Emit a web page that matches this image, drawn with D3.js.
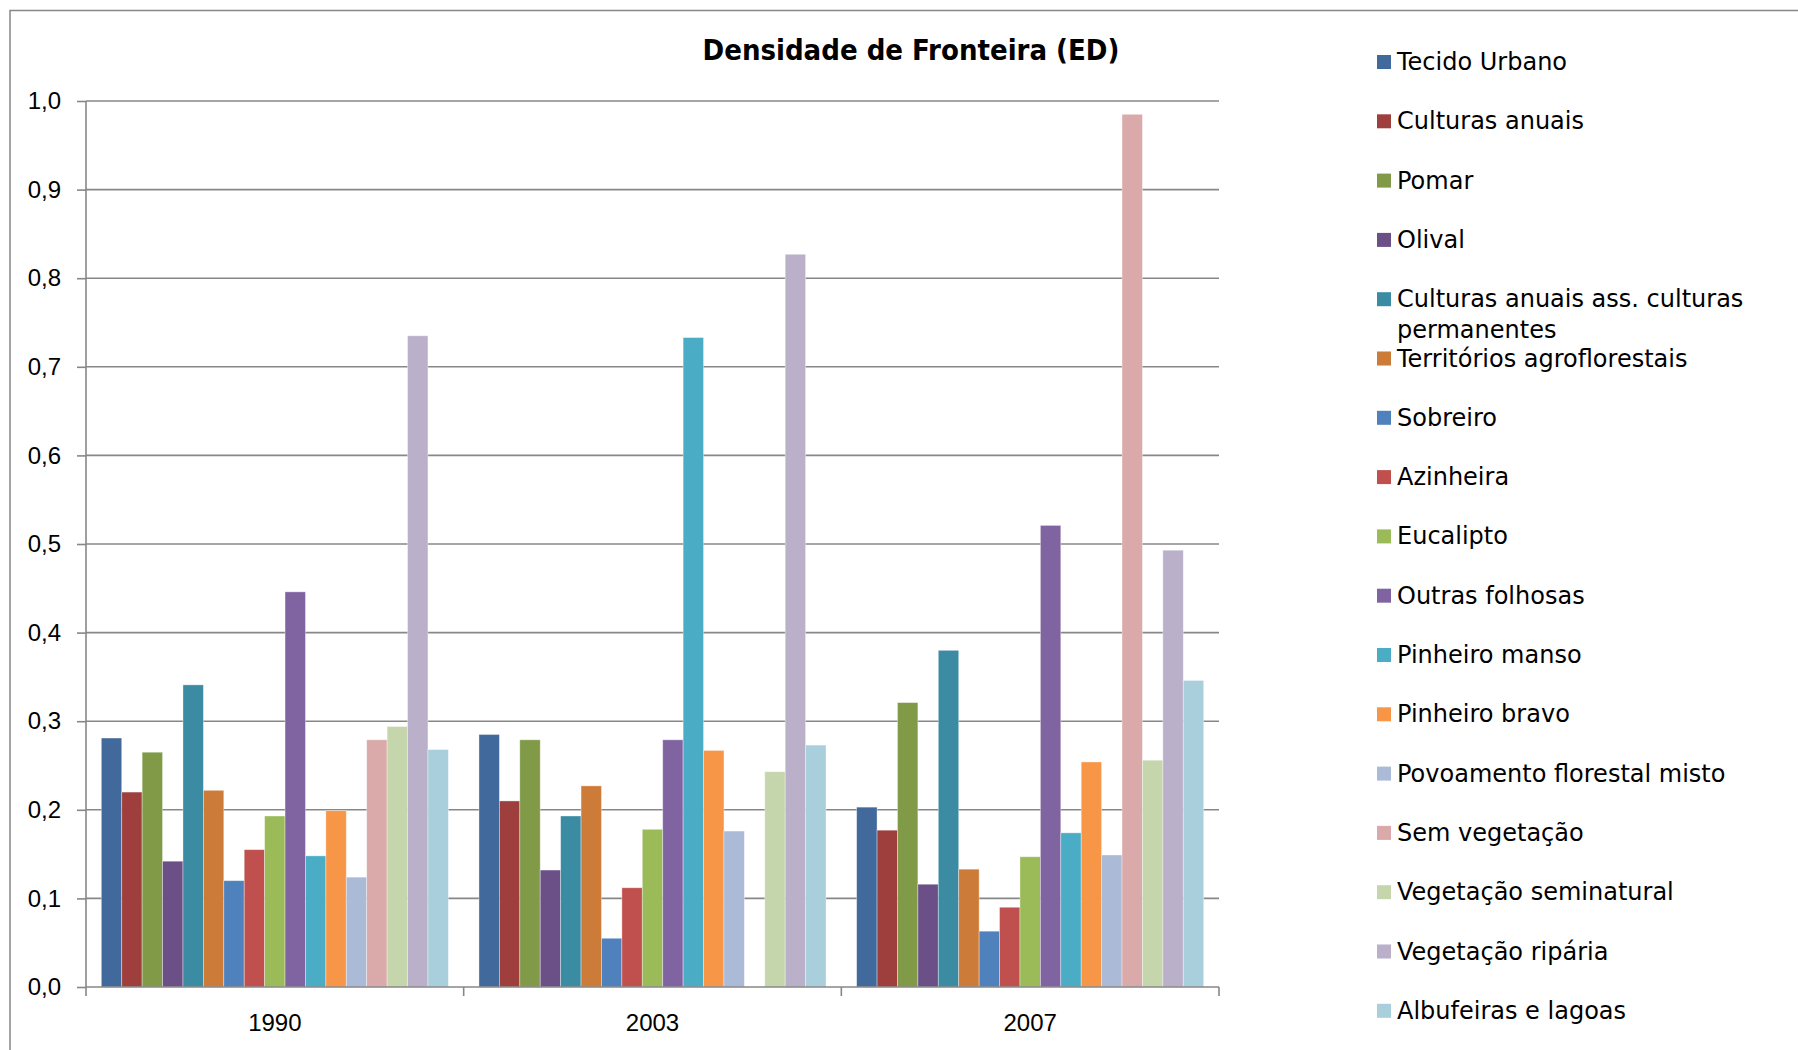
<!DOCTYPE html>
<html>
<head>
<meta charset="utf-8">
<script src="https://cdn.jsdelivr.net/npm/d3@7"></script>
<style>
  html, body { margin: 0; padding: 0; background: #fff; overflow: hidden; }
  svg { display: block; }
</style>
</head>
<body>
<svg id="chart" width="1798" height="1050"></svg>
<script>
// ---- Data ----
const years = ["1990", "2003", "2007"];
const seriesNames = [
  "Tecido Urbano",
  "Culturas anuais",
  "Pomar",
  "Olival",
  "Culturas anuais ass. culturas permanentes",
  "Territórios agroflorestais",
  "Sobreiro",
  "Azinheira",
  "Eucalipto",
  "Outras folhosas",
  "Pinheiro manso",
  "Pinheiro bravo",
  "Povoamento florestal misto",
  "Sem vegetação",
  "Vegetação seminatural",
  "Vegetação ripária",
  "Albufeiras e lagoas"
];
const seriesColors = [
  "#41699b", "#9e3f3d", "#809a48", "#6a5086", "#3b8ba3", "#cc7b38",
  "#4f81bd", "#c0504d", "#9bbb59", "#8064a2", "#4bacc6", "#f79646",
  "#aabad7", "#d9aaa9", "#c6d6ac", "#bab0c9", "#a9cedc"
];
const values1990 = [0.281, 0.220, 0.265, 0.142, 0.341, 0.222, 0.120, 0.155, 0.193, 0.446, 0.148, 0.199, 0.124, 0.279, 0.294, 0.735, 0.268];
const values2003 = [0.285, 0.210, 0.279, 0.132, 0.193, 0.227, 0.055, 0.112, 0.178, 0.279, 0.733, 0.267, 0.176, 0.000, 0.243, 0.827, 0.273];
const values2007 = [0.203, 0.177, 0.321, 0.116, 0.380, 0.133, 0.063, 0.090, 0.147, 0.521, 0.174, 0.254, 0.149, 0.985, 0.256, 0.493, 0.346];
const yTicks = [0, 0.1, 0.2, 0.3, 0.4, 0.5, 0.6, 0.7, 0.8, 0.9, 1.0];
const titleText = "Densidade de Fronteira (ED)";

const valuesByYear = { "1990": values1990, "2003": values2003, "2007": values2007 };

// ---- Layout ----
const svg = d3.select("#chart");
const plotLeft = 86, plotRight = 1219, plotTop = 101, plotBottom = 987;
const gridColor = "#878787";
const axisFont = "'Liberation Sans', Arial, sans-serif";
const titleFont = "'DejaVu Sans Condensed', 'DejaVu Sans', sans-serif";
const legendFont = "'DejaVu Sans', sans-serif";

// chart border (left/top visible, right/bottom beyond viewport)
svg.append("rect")
  .attr("x", 10).attr("y", 10.5)
  .attr("width", 1900).attr("height", 1200)
  .attr("fill", "none").attr("stroke", gridColor).attr("stroke-width", 1.5);

const x0 = d3.scaleBand().domain(years).range([plotLeft, plotRight]).paddingInner(0).paddingOuter(0);
const x1 = d3.scaleBand().domain(d3.range(seriesNames.length)).range([0, x0.bandwidth()])
  .paddingInner(0).paddingOuter(0.75);
const y = d3.scaleLinear().domain([0, 1]).range([plotBottom, plotTop]);

// gridlines
svg.append("g").selectAll("line").data(yTicks.slice(1)).join("line")
  .attr("x1", plotLeft).attr("x2", plotRight)
  .attr("y1", d => y(d)).attr("y2", d => y(d))
  .attr("stroke", gridColor).attr("stroke-width", 1.6);

// bars
const groups = svg.append("g").selectAll("g").data(years).join("g")
  .attr("transform", d => `translate(${x0(d)},0)`);
groups.selectAll("rect")
  .data(yr => valuesByYear[yr].map((v, i) => ({ v, i })))
  .join("rect")
  .attr("x", d => x1(d.i))
  .attr("width", x1.bandwidth())
  .attr("y", d => y(d.v))
  .attr("height", d => y(0) - y(d.v))
  .attr("fill", d => seriesColors[d.i])
  .attr("stroke", d => d.v > 0 ? "rgba(255,255,255,0.45)" : "none")
  .attr("stroke-width", 0.8);

// y axis
const yAxis = d3.axisLeft(y).tickValues(yTicks).tickSize(9).tickPadding(16)
  .tickFormat(d => d3.format(".1f")(d).replace(".", ","));
const gy = svg.append("g").attr("transform", `translate(${plotLeft},0)`).call(yAxis);
gy.select(".domain").attr("stroke", gridColor).attr("stroke-width", 1.6)
  .attr("d", `M0,${plotTop}V${plotBottom}`);
gy.selectAll(".tick line").attr("stroke", gridColor).attr("stroke-width", 1.6);
gy.selectAll(".tick text").attr("font-family", axisFont).attr("font-size", 24).attr("fill", "#000");

// x axis
const xAxis = d3.axisBottom(x0).tickSize(0).tickPadding(27);
const gx = svg.append("g").attr("transform", `translate(0,${plotBottom})`).call(xAxis);
gx.select(".domain").attr("stroke", gridColor).attr("stroke-width", 1.6)
  .attr("d", `M${plotLeft},0H${plotRight}`);
gx.selectAll(".tick text").attr("font-family", axisFont).attr("font-size", 24).attr("fill", "#000");
// boundary ticks between categories
const boundaries = years.map(yr => x0(yr)).concat([x0(years[years.length - 1]) + x0.bandwidth()]);
svg.append("g").selectAll("line").data(boundaries).join("line")
  .attr("x1", d => d).attr("x2", d => d)
  .attr("y1", plotBottom).attr("y2", plotBottom + 9)
  .attr("stroke", gridColor).attr("stroke-width", 1.6);

// title
svg.append("text")
  .attr("x", 911).attr("y", 60)
  .attr("text-anchor", "middle")
  .attr("font-family", titleFont).attr("font-stretch", "condensed")
  .attr("font-weight", "bold").attr("font-size", 29).attr("fill", "#000")
  .text(titleText);

// legend
const legendX = 1377, legendY0 = 61, legendStep = 59.3;
const leg = svg.append("g").selectAll("g").data(seriesNames).join("g")
  .attr("transform", (d, i) => `translate(${legendX},${legendY0 + i * legendStep})`);
leg.append("rect")
  .attr("x", 0).attr("y", -6).attr("width", 14).attr("height", 14)
  .attr("fill", (d, i) => seriesColors[i]);
leg.append("text")
  .attr("x", 20).attr("y", 9)
  .attr("font-family", legendFont)
  .attr("font-size", 24).attr("fill", "#000")
  .each(function (d) {
    const t = d3.select(this);
    if (d.startsWith("Culturas anuais ass.")) {
      t.append("tspan").attr("x", 20).attr("dy", 0).text("Culturas anuais ass. culturas");
      t.append("tspan").attr("x", 20).attr("dy", 31).text("permanentes");
    } else {
      t.text(d);
    }
  });
</script>
</body>
</html>
